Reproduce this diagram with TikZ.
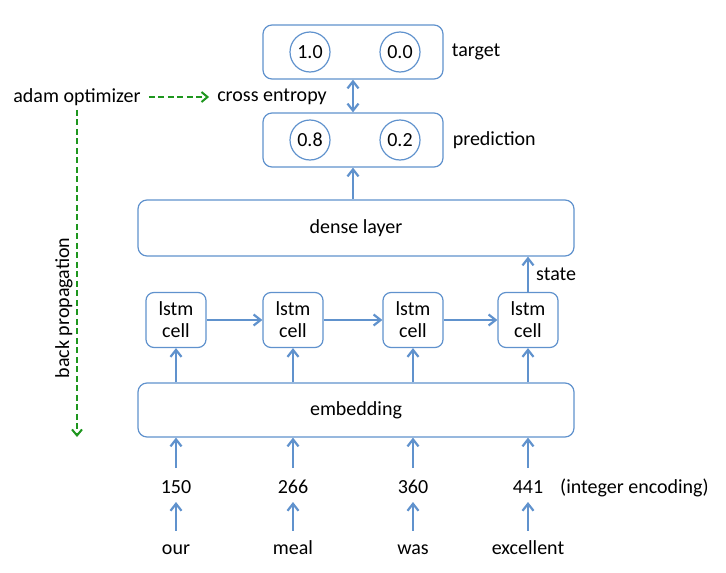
\documentclass[tikz,border=0pt]{standalone}
\usepackage{fontspec}
\setmainfont{Carlito}
\usetikzlibrary{arrows.meta}
\definecolor{bl}{RGB}{96,146,205}
\definecolor{gr}{RGB}{30,150,30}
\tikzstyle{tx}=[font=\fontsize{20}{22}\selectfont, inner sep=0pt]
\tikzstyle{wd}=[tx, text height=14pt, text depth=4pt]
\tikzstyle{bx}=[tx, draw=bl, line width=1.2pt, rounded corners=9pt]
\tikzstyle{cc}=[tx, draw=bl, line width=1.2pt, circle, minimum size=40pt]
\tikzstyle{ar}=[draw=bl, line width=2.2pt, -{Straight Barb[length=7pt,width=11pt]}]
\tikzstyle{dar}=[ar, {Straight Barb[length=7pt,width=11pt]}-{Straight Barb[length=7pt,width=11pt]}]
\tikzstyle{ga}=[draw=gr, line width=2pt, dash pattern=on 6pt off 3.5pt, -{Straight Barb[length=6pt,width=10pt]}]

\begin{document}
\begin{tikzpicture} [x=1pt, y=-1pt]
%%position
\useasboundingbox (0,0) rectangle (726,573);
%%target
\node[bx, minimum width=180pt, minimum height=54pt] (tgt) at (353,52) {};
\node[cc] (t1) at (310,52) {1.0};
\node[cc] (t2) at (400,52) {0.0};
\node[tx, anchor=west, inner xsep=8pt] (tgtlbl) at (tgt.east) {target};
%%prediction
\node[bx, minimum width=180pt, minimum height=54pt] (pred) at (353,140) {};
\node[cc] (p1) at (310,140) {0.8};
\node[cc] (p2) at (400,140) {0.2};
\node[tx, anchor=west, inner xsep=9pt] (predlbl) at (pred.east) {prediction};
%%loss
\node[tx, inner xsep=8pt, inner ysep=4pt] (adam) at (77,97) {adam optimizer};
\node[tx, inner xsep=8pt] (xent) at (272,97) {cross entropy};
\coordinate (bpend) at (77,437);
\node[tx, rotate=90] (bplbl) at (64,308) {back propagation};
%%dense
\node[bx, minimum width=436pt, minimum height=56pt] (dense) at (356,228) {dense layer};
%%lstm
\node[bx, minimum width=60pt, minimum height=55pt, align=center, rounded corners=8pt] (l1) at (176,320) {lstm\\cell};
\node[bx, minimum width=60pt, minimum height=55pt, align=center, rounded corners=8pt] (l2) at (293,320) {lstm\\cell};
\node[bx, minimum width=60pt, minimum height=55pt, align=center, rounded corners=8pt] (l3) at (413,320) {lstm\\cell};
\node[bx, minimum width=60pt, minimum height=55pt, align=center, rounded corners=8pt] (l4) at (528,320) {lstm\\cell};
\node[tx, anchor=west] (state) at (536,274) {state};
%%embedding
\node[bx, minimum width=436pt, minimum height=54pt] (emb) at (356,410) {embedding};
%%numbers
\node[wd] (n1) at (176,488) {150};
\node[wd] (n2) at (293,488) {266};
\node[wd] (n3) at (413,488) {360};
\node[wd] (n4) at (528,488) {441};
\node[wd, anchor=west] (enc) at (560,488) {(integer encoding)};
%%words
\node[wd] (w1) at (176,549.5) {our};
\node[wd] (w2) at (293,549.5) {meal};
\node[wd] (w3) at (413,549.5) {was};
\node[wd] (w4) at (528,549.5) {excellent};
%%arrows
\draw[dar] (pred.north) -- (tgt.south);
\draw[ar] (dense.north -| pred.south) -- (pred.south);
\draw[ar] (l4.north) -- (l4.north |- dense.south);
\draw[ar] (l1) -- (l2);
\draw[ar] (l2) -- (l3);
\draw[ar] (l3) -- (l4);
\draw[ar] (l1 |- emb.north) -- (l1.south);
\draw[ar] (l2 |- emb.north) -- (l2.south);
\draw[ar] (l3 |- emb.north) -- (l3.south);
\draw[ar] (l4 |- emb.north) -- (l4.south);
\draw[ar, shorten <=20pt] (n1.center) -- (n1 |- emb.south);
\draw[ar, shorten <=20pt] (n2.center) -- (n2 |- emb.south);
\draw[ar, shorten <=20pt] (n3.center) -- (n3 |- emb.south);
\draw[ar, shorten <=20pt] (n4.center) -- (n4 |- emb.south);
\draw[ar, shorten <=19pt, shorten >=14pt] (w1.center) -- (n1.center);
\draw[ar, shorten <=19pt, shorten >=14pt] (w2.center) -- (n2.center);
\draw[ar, shorten <=19pt, shorten >=14pt] (w3.center) -- (n3.center);
\draw[ar, shorten <=19pt, shorten >=14pt] (w4.center) -- (n4.center);
%%green
\draw[ga] (adam.east) -- (xent.west);
\draw[ga] (adam.south) -- (bpend);
\end{tikzpicture}
\end{document}
